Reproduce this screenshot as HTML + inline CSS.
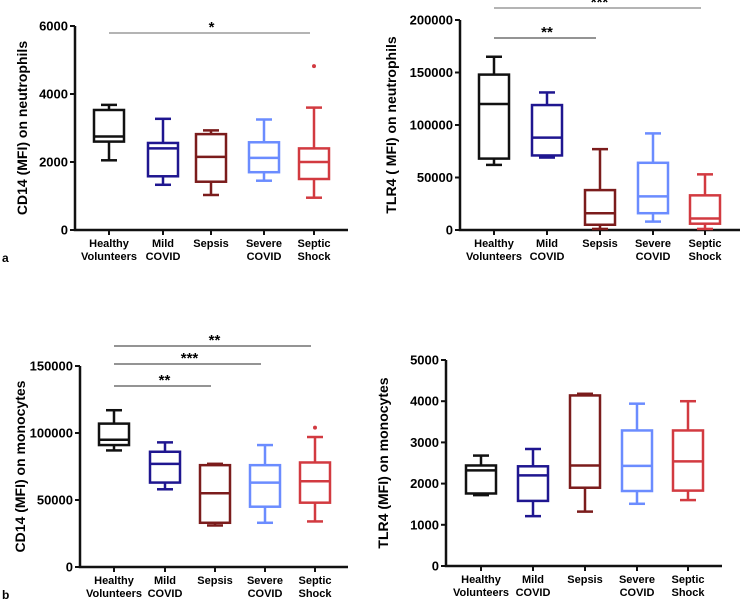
<!DOCTYPE html>
<html><head><meta charset="utf-8"><style>
body{margin:0;background:#fff;width:741px;height:604px;overflow:hidden}
svg{font-family:"Liberation Sans",Arial,sans-serif;font-weight:bold}
</style></head><body>
<svg id="c" width="741" height="604"></svg>
<script>
const categories=["Healthy|Volunteers","Mild|COVID","Sepsis","Severe|COVID","Septic|Shock"];
const colors=["#111111","#1f1690","#7b1c1c","#6b8cff","#d23a40"];
// [lowWhisker, q1, median, q3, highWhisker]
const cd14NeutVals=[[2050,2600,2750,3530,3680],[1330,1580,2400,2560,3270],[1030,1420,2150,2820,2930],[1450,1700,2120,2580,3250],[950,1500,2000,2400,3600]];
const cd14NeutOutliers=[[4,4820]];
const cd14NeutTicks=[0,2000,4000,6000];
const tlr4NeutVals=[[62000,68000,120000,148000,165000],[69000,71000,88000,119000,131000],[1000,5000,16000,38000,77000],[8000,16000,32000,64000,92000],[1000,6000,11000,33000,53000]];
const tlr4NeutOutliers=[];
const tlr4NeutTicks=[0,50000,100000,150000,200000];
const cd14MonoVals=[[87000,91000,95000,107000,117000],[58000,63000,77000,86000,93000],[31000,33000,55000,76000,77000],[33000,45000,63000,76000,91000],[34000,48000,64000,78000,97000]];
const cd14MonoOutliers=[[4,104000]];
const cd14MonoTicks=[0,50000,100000,150000];
const tlr4MonoVals=[[1720,1760,2320,2440,2680],[1210,1580,2200,2420,2840],[1320,1900,2440,4140,4180],[1510,1820,2430,3290,3940],[1600,1830,2540,3290,4000]];
const tlr4MonoOutliers=[];
const tlr4MonoTicks=[0,1000,2000,3000,4000,5000];

const svg=document.getElementById('c');const NS='http://www.w3.org/2000/svg';
function mk(t,a,p){const e=document.createElementNS(NS,t);for(const k in a)e.setAttribute(k,a[k]);(p||svg).appendChild(e);return e;}

function panel(o){
  const g=mk('g',{});
  
  
  const max=o.ticks[o.ticks.length-1];
  const y=v=>o.y0-(v/max)*(o.y0-o.yTop);
  const xs=o.xs;
  const ax=mk('path',{d:`M${o.ax} ${o.yTop}V${o.y0}H${o.axEnd}`,stroke:'#111','stroke-width':2.5,fill:'none'},g);
  
  o.ticks.forEach(t=>{
    mk('line',{x1:o.ax-5,x2:o.ax,y1:y(t),y2:y(t),stroke:'#111','stroke-width':2},g);
    const tx=mk('text',{x:o.ax-7,y:y(t)+4.5,'text-anchor':'end','font-size':13},g);tx.textContent=t;
    
  });
  categories.forEach((c,i)=>{
    mk('line',{x1:xs[i],x2:xs[i],y1:o.y0,y2:o.y0+5,stroke:'#111','stroke-width':2},g);
    const parts=c.split('|');
    parts.forEach((p,j)=>{const tx=mk('text',{x:xs[i],y:o.y0+17+j*13,'text-anchor':'middle','font-size':11},g);tx.textContent=p;
      });
    const v=o.vals[i],col=colors[i],w=15,cw=8;
    const b=mk('g',{stroke:col,'stroke-width':2.5,fill:'none'},g);
    
    mk('line',{x1:xs[i],x2:xs[i],y1:y(v[0]),y2:y(v[1])},b);
    mk('line',{x1:xs[i],x2:xs[i],y1:y(v[3]),y2:y(v[4])},b);
    mk('line',{x1:xs[i]-cw,x2:xs[i]+cw,y1:y(v[0]),y2:y(v[0])},b);
    mk('line',{x1:xs[i]-cw,x2:xs[i]+cw,y1:y(v[4]),y2:y(v[4])},b);
    mk('rect',{x:xs[i]-w,y:y(v[3]),width:2*w,height:y(v[1])-y(v[3])},b);
    mk('line',{x1:xs[i]-w,x2:xs[i]+w,y1:y(v[2]),y2:y(v[2])},b);
  });
  o.outliers.forEach(p=>{const c=mk('circle',{cx:xs[p[0]],cy:y(p[1]),r:2,fill:colors[p[0]]},g);
    });
  o.sig.forEach(s=>{
    mk('line',{x1:xs[0],x2:xs[s[0]]-4,y1:s[1],y2:s[1],stroke:s[3]||'#555','stroke-width':1.3},g);
    const tx=mk('text',{x:(xs[0]+xs[s[0]])/2,y:s[1]-1,'text-anchor':'middle','font-size':15},g);tx.textContent=s[2];
    
  });
  const yt=mk('text',{transform:`translate(${o.titleX},${(o.yTop+o.y0)/2}) rotate(-90)`,'text-anchor':'middle','font-size':14},g);
  yt.textContent=o.title;
}
panel({name:'cd14-neutrophils-chart',vals:cd14NeutVals,outliers:cd14NeutOutliers,ticks:cd14NeutTicks,ax:75,axEnd:348,yTop:26,y0:230,xs:[109,163,211,264,314],title:'CD14 (MFI) on neutrophils',titleX:27,sig:[[4,33,'*','#888']]});
panel({name:'tlr4-neutrophils-chart',vals:tlr4NeutVals,outliers:tlr4NeutOutliers,ticks:tlr4NeutTicks,ax:460,axEnd:740,yTop:20,y0:230,xs:[494,547,600,653,705],title:'TLR4 ( MFI) on neutrophils',titleX:396,sig:[[4,8,'***','#888'],[2,38,'**']]});
panel({name:'cd14-monocytes-chart',vals:cd14MonoVals,outliers:cd14MonoOutliers,ticks:cd14MonoTicks,ax:80,axEnd:348,yTop:366,y0:567,xs:[114,165,215,265,315],title:'CD14 (MFI) on monocytes',titleX:25,sig:[[4,346,'**'],[3,364,'***'],[2,386,'**']]});
panel({name:'tlr4-monocytes-chart',vals:tlr4MonoVals,outliers:tlr4MonoOutliers,ticks:tlr4MonoTicks,ax:446,axEnd:722,yTop:360,y0:566,xs:[481,533,585,637,688],title:'TLR4 (MFI) on monocytes',titleX:388,sig:[]});
const la=mk('text',{x:2,y:262,'font-size':12});la.textContent='a';
const lb=mk('text',{x:2,y:599,'font-size':12});lb.textContent='b';
</script></body></html>
